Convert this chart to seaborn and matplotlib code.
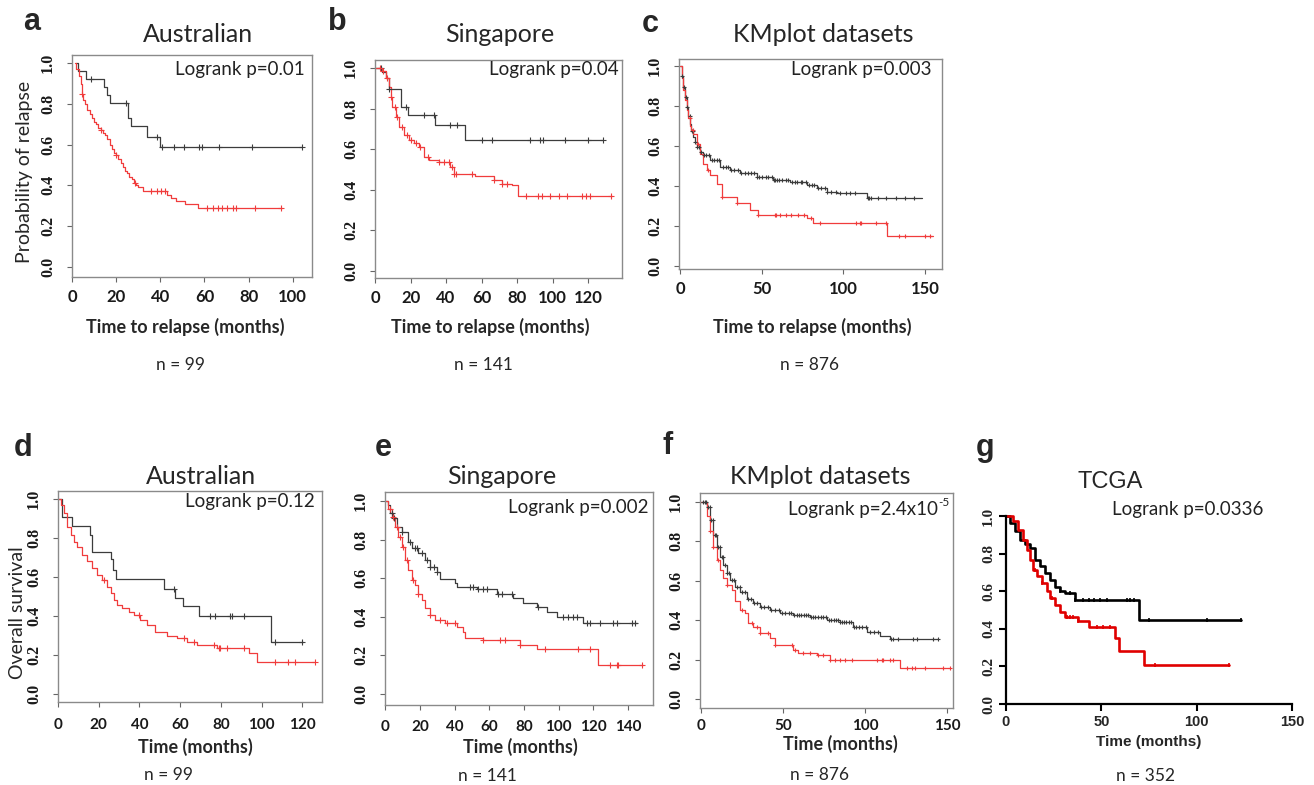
import numpy as np
import pandas as pd
import matplotlib
matplotlib.use("Agg")
import matplotlib.pyplot as plt
import seaborn as sns

sns.set_style("ticks")
plt.rcParams['font.family'] = ['Lato', 'DejaVu Sans']

W, H = 1314, 785

# ---------------- data (months, survival) ----------------
# a: Australian, relapse
a_black_t = [2, 2.5, 6.5, 14.5, 16, 17, 25.5, 26.8, 34, 40, 104]
a_black_s = [1.0, 0.96, 0.925, 0.885, 0.845, 0.805, 0.73, 0.69, 0.64, 0.59, 0.59]
a_black_cens = [8.6, 24.5, 38.5, 40.7, 46, 50.8, 57.3, 58.8, 66.4, 81.4, 104]
a_red_t = [1.5, 2, 3, 4, 4.5, 5, 6, 7, 8, 9, 10, 11, 12, 13, 14, 15, 16, 17, 18, 19, 20,
           21, 22, 23, 24, 25, 26, 27, 28, 29, 30, 32, 43, 45, 47, 51, 57, 95]
a_red_s = [1.0, 0.97, 0.94, 0.90, 0.85, 0.82, 0.80, 0.77, 0.75, 0.73, 0.71, 0.70, 0.68, 0.67,
           0.66, 0.65, 0.63, 0.60, 0.58, 0.56, 0.55, 0.53, 0.51, 0.49, 0.47, 0.46, 0.44, 0.43,
           0.41, 0.40, 0.39, 0.375, 0.355, 0.34, 0.325, 0.31, 0.29, 0.29]
a_red_cens = [4.5, 13, 20, 28.5, 36, 38.5, 40.5, 42, 61, 64, 66, 68, 70, 73, 74.5, 83, 94.5]

# b: Singapore, relapse
b_black_t = [0, 4.1, 6, 7.9, 14.4, 18.5, 34, 50.8, 128.4]
b_black_s = [1.0, 0.98, 0.95, 0.90, 0.81, 0.77, 0.72, 0.645, 0.645]
b_black_cens = [3.6, 7.9, 17.2, 27.5, 33, 42.4, 46.2, 60.2, 65.8, 87.3, 92.9, 94.8, 106.9, 120, 128.4]
b_red_t = [0, 4.1, 6, 7.9, 8.8, 9.7, 11.6, 13.5, 16.3, 19.1, 21.9, 24.7, 27.5, 30.3, 35.9,
           42.4, 44.3, 56.4, 66.7, 71.4, 77, 80.4, 133.6]
b_red_s = [1.0, 0.985, 0.95, 0.91, 0.86, 0.81, 0.76, 0.71, 0.67, 0.645, 0.63, 0.61, 0.56,
           0.547, 0.535, 0.51, 0.48, 0.47, 0.45, 0.43, 0.425, 0.37, 0.37]
b_red_cens = [2.8, 4.7, 6.9, 9.2, 11, 12.5, 15.3, 17.8, 20, 22.8, 25.6, 29.7, 35.9, 38.7, 41.5,
              43.4, 44.7, 45.8, 54.6, 66.7, 71.4, 74.2, 85, 92, 93.8, 98.5, 103.7, 107.9,
              116.3, 118.7, 120.9, 133]

# c: KMplot, relapse
c_black_t = [0, 1, 2, 3, 4.1, 5, 6.1, 7, 8.2, 9, 10.2, 12.2, 14.3, 18.4, 24.5, 30.6, 36.7,
             46.9, 57.1, 67.3, 77.6, 83.7, 89.8, 95.9, 114.3, 148]
c_black_s = [1.0, 0.95, 0.895, 0.845, 0.795, 0.75, 0.71, 0.675, 0.645, 0.62, 0.595, 0.57,
             0.555, 0.53, 0.496, 0.48, 0.463, 0.446, 0.43, 0.42, 0.404, 0.388, 0.371, 0.363,
             0.338, 0.338]
c_black_cens = [1.5, 2.5, 3.8, 4.6, 5.9, 7.2, 8.1, 9.4, 10.6, 11.8, 13.1, 14.7, 16.2, 17.5,
                19.3, 21.0, 22.8, 24.1, 26.4, 28.0, 29.7, 31.5, 33.2, 35.8, 37.4, 39.9, 41.6,
                43.5, 45.2, 47.0, 48.3, 50.1, 52.6, 54.0, 56.2, 57.5, 58.4, 59.3, 60.7, 62.5,
                64.8, 66.1, 68.4, 70.2, 71.5, 73.8, 75.0, 77.2, 78.9, 80.6, 82.0, 84.3, 86.1,
                88.5, 90.2, 92.7, 95.4, 98.1, 101.6, 104.3, 107.2, 114.8, 116.0, 117.1, 121.5,
                125.9, 132.4, 137.8, 143.5]
c_red_t = [0, 1, 2, 3, 4.1, 5, 6.1, 7, 8.2, 10.2, 12.2, 14.3, 16.3, 18.4, 22.4, 25.5, 34.7,
           42.9, 48, 77.6, 81.6, 126.5, 155]
c_red_s = [1.0, 0.94, 0.88, 0.83, 0.78, 0.74, 0.70, 0.68, 0.66, 0.61, 0.56, 0.51, 0.48, 0.455,
           0.41, 0.346, 0.313, 0.28, 0.255, 0.238, 0.216, 0.15, 0.15]
c_red_cens = [6, 8, 11, 17, 25.5, 34.7, 48, 58, 59, 61, 65, 68, 72, 76, 80, 86, 108, 110, 111,
              120, 126, 134, 138, 150, 153]

# d: Australian, overall survival
d_black_t = [0, 2.1, 7, 15.7, 16.8, 25.8, 27.1, 28.3, 52, 57.7, 61.4, 69.1, 104.6, 120.6]
d_black_s = [1.0, 0.91, 0.86, 0.815, 0.73, 0.69, 0.636, 0.59, 0.54, 0.49, 0.45, 0.40, 0.265, 0.265]
d_black_cens = [56.9, 74.5, 77.3, 84.3, 85.5, 91.2, 106.7, 119.8]
d_red_t = [0, 1.3, 2.9, 4.6, 6.2, 7.8, 9.5, 11.9, 14.4, 16.8, 19.3, 21.7, 24.2, 25.8, 27.5,
           29.1, 31.5, 34.8, 37.3, 40.5, 43.8, 47.9, 53.6, 58.5, 63.4, 68.3, 78.1, 93.6, 97.7, 126.3]
d_red_s = [1.0, 0.97, 0.926, 0.858, 0.815, 0.78, 0.755, 0.713, 0.68, 0.645, 0.61, 0.585, 0.55,
           0.516, 0.48, 0.456, 0.44, 0.42, 0.405, 0.38, 0.354, 0.32, 0.30, 0.285, 0.268, 0.25,
           0.234, 0.209, 0.166, 0.166]
d_red_cens = [22.5, 39.7, 61.8, 66.7, 76.5, 78.9, 79.7, 83, 91.2, 106.7, 113.2, 116.5, 126.3]

# e: Singapore, overall survival
e_black_t = [0, 1.7, 2.7, 4.6, 6.5, 9.4, 13.3, 15.2, 19, 22.9, 25.8, 29.6, 31.5, 40.2, 41.2,
             52.7, 64.2, 73.8, 79.6, 87.3, 93.1, 98.8, 114.2, 145]
e_black_s = [1.0, 0.98, 0.936, 0.91, 0.867, 0.84, 0.79, 0.755, 0.73, 0.694, 0.66, 0.634, 0.594,
             0.573, 0.556, 0.542, 0.52, 0.496, 0.47, 0.45, 0.427, 0.40, 0.37, 0.37]
e_black_cens = [3.7, 5, 9.4, 14.2, 17.1, 18.5, 21, 23.8, 25.8, 28.1, 30, 48.8, 50.8, 53.7, 56.5,
                58.5, 65.2, 67.1, 72.9, 88.3, 102.7, 105.6, 108.5, 110.4, 116.2, 118.1, 123.8,
                131.5, 133.5, 142.1, 144]
e_red_t = [0, 1.7, 3.7, 5.6, 7.5, 9.4, 11.3, 13.3, 15.2, 17.1, 19, 21, 22.9, 25.8, 28.7, 34.4,
           41.2, 45, 46, 56.5, 77.7, 87.3, 122.9, 148.8]
e_red_s = [1.0, 0.96, 0.92, 0.867, 0.815, 0.763, 0.694, 0.642, 0.59, 0.565, 0.52, 0.487, 0.444,
           0.41, 0.383, 0.37, 0.345, 0.323, 0.288, 0.28, 0.254, 0.231, 0.15, 0.15]
e_red_cens = [2.7, 4.6, 6.5, 8.5, 10.4, 12.7, 16.2, 19, 25.8, 31.5, 35.4, 40.2, 56.5, 66.2, 69,
              77.7, 92.1, 111.3, 118.1, 129.6, 133.5, 134.4, 147.9]

# f: KMplot, overall survival
f_black_t = [0, 3.5, 5.5, 7.5, 9.6, 11.6, 13.6, 15.7, 17.7, 20.7, 23.8, 27.8, 31.9, 36, 42.1,
             48.2, 56.3, 66.5, 76.6, 84.8, 92.9, 101, 109.1, 115.2, 144.7]
f_black_s = [1.0, 0.975, 0.907, 0.83, 0.77, 0.72, 0.68, 0.637, 0.604, 0.57, 0.545, 0.51, 0.486,
             0.469, 0.452, 0.438, 0.427, 0.415, 0.40, 0.393, 0.368, 0.342, 0.32, 0.305, 0.305]
f_black_cens = [1.2, 2.3, 3.1, 4.4, 5.2, 6.3, 7.1, 8.4, 9.3, 10.5, 11.4, 12.6, 13.5, 14.8, 16.0,
                17.3, 18.9, 20.4, 22.1, 23.5, 25.2, 26.8, 28.7, 30.3, 32.4, 34.1, 36.5, 38.2,
                40.6, 42.9, 45.1, 47.3, 49.6, 51.5, 53.8, 55.2, 56.9, 58.4, 59.7, 61.3, 62.6,
                64.1, 65.5, 67.0, 68.3, 69.8, 71.2, 72.9, 74.6, 76.3, 78.1, 79.5, 81.0, 82.4,
                83.6, 84.9, 86.2, 87.5, 88.7, 90.1, 91.6, 93.2, 94.8, 96.5, 98.3, 100.4, 102.8,
                105.3, 108.0, 115.6, 117.2, 120.3, 129.5, 131.6, 141.7, 144.7]
f_red_t = [0, 3.5, 5.5, 7.5, 9.6, 11.6, 13.6, 15.7, 18.7, 20.7, 23.8, 26.8, 28.9, 31.9, 36,
           42.1, 45.1, 56.3, 59.3, 70.5, 78.7, 121.3, 151.8]
f_red_s = [1.0, 0.93, 0.85, 0.77, 0.705, 0.654, 0.612, 0.578, 0.553, 0.50, 0.452, 0.435, 0.384,
           0.368, 0.334, 0.309, 0.275, 0.25, 0.236, 0.224, 0.20, 0.157, 0.157]
f_red_cens = [5.5, 7.5, 10.6, 15.7, 24.8, 30.9, 33.9, 36, 41.1, 45.1, 55.3, 57.3, 62.4, 66.5,
              71.5, 74.6, 78.7, 81.7, 84.8, 87.8, 91.9, 107.1, 110.2, 111.2, 115.2, 117.3,
              125.4, 128.5, 130.5, 136.6, 147.8, 151.8]

# g: TCGA, overall survival
g_black_t = [0, 2.1, 4.7, 7.4, 10, 12.6, 15.2, 17.9, 20.5, 23.1, 25.7, 28.4, 31, 36.3, 69.5, 123]
g_black_s = [1.0, 0.964, 0.92, 0.875, 0.854, 0.83, 0.77, 0.733, 0.70, 0.66, 0.626, 0.60, 0.59,
             0.555, 0.448, 0.448]
g_black_cens = [28.4, 33.6, 36.3, 40.6, 43.3, 45.9, 49.4, 52.9, 63.4, 65.1, 66.9, 74.8, 105.4, 123]
g_red_t = [0, 3.9, 6.5, 9.1, 10.9, 12.6, 14.4, 16.1, 18.7, 21.4, 23.1, 25.7, 28.4, 31, 38,
           43.3, 57.3, 59.5, 72.2, 116.8]
g_red_s = [1.0, 0.973, 0.93, 0.875, 0.822, 0.769, 0.715, 0.68, 0.644, 0.60, 0.564, 0.528,
           0.493, 0.466, 0.44, 0.413, 0.35, 0.28, 0.208, 0.208]
g_red_cens = [15.2, 18.7, 24, 31.9, 33.6, 35.4, 38, 47.6, 51.1, 54.6, 78.3, 116.8]

yticks = [0.0, 0.2, 0.4, 0.6, 0.8, 1.0]
ytick_labels = ['0.0', '0.2', '0.4', '0.6', '0.8', '1.0']

RED = '#f03c3c'
GREY = '#3c3c3c'

fig = plt.figure(figsize=(W / 100, H / 100), dpi=100)


def px_axes(left, top, right, bottom):
    return fig.add_axes([left / W, 1 - bottom / H, (right - left) / W, (bottom - top) / H])


def ftext(x, y, s, **kw):
    fig.text(x / W, 1 - y / H, s, **kw)


def step_at(t, s, c):
    idx = np.searchsorted(t, c, side='right') - 1
    return np.asarray(s)[np.clip(idx, 0, len(s) - 1)]


def km(ax, t, s, cens, color, lw=0.9, marker='+', ms=15, mlw=0.8):
    df = pd.DataFrame({'time': t, 'surv': s})
    sns.lineplot(data=df, x='time', y='surv', drawstyle='steps-post', estimator=None,
                 sort=False, color=color, lw=lw, ax=ax)
    cdf = pd.DataFrame({'time': cens, 'surv': step_at(t, s, cens)})
    sns.scatterplot(data=cdf, x='time', y='surv', marker=marker, s=ms, color=color,
                    linewidth=mlw, ax=ax, zorder=3)


def style_box(ax, xlim, ylim, xticks, xpad, xsize=12):
    ax.set_xlim(xlim)
    ax.set_ylim(ylim)
    ax.set_xticks(xticks)
    ax.set_xticklabels([str(v) for v in xticks], fontsize=xsize, fontweight='bold',
                       color='#1a1a1a')
    ax.set_yticks(yticks)
    ax.set_yticklabels(ytick_labels, rotation=90, va='center', fontsize=11.5,
                       fontweight='bold', family='Liberation Serif', color='#1a1a1a')
    for sp in ax.spines.values():
        sp.set_color('#8a8a8a')
        sp.set_linewidth(1.0)
    ax.tick_params(axis='both', direction='out', length=3.5, width=0.8, color='#666666')
    ax.tick_params(axis='x', pad=xpad)
    ax.tick_params(axis='y', pad=8)
    ax.set_xlabel('')
    ax.set_ylabel('')


# ---------------- top row ----------------
ax = px_axes(72, 55, 312, 277)
km(ax, a_black_t, a_black_s, a_black_cens, GREY)
km(ax, a_red_t, a_red_s, a_red_cens, RED)
style_box(ax, (0, 108.7), (-0.05, 1.041), [0, 20, 40, 60, 80, 100], 5.5)

ax = px_axes(375, 60, 622, 278)
km(ax, b_black_t, b_black_s, b_black_cens, GREY)
km(ax, b_red_t, b_red_s, b_red_cens, RED)
style_box(ax, (0, 139), (-0.036, 1.041), [0, 20, 40, 60, 80, 100, 120], 5.5)

ax = px_axes(679, 59, 942, 269)
km(ax, c_black_t, c_black_s, c_black_cens, GREY, ms=12)
km(ax, c_red_t, c_red_s, c_red_cens, RED, ms=12)
style_box(ax, (-0.6, 160.4), (-0.015, 1.033), [0, 50, 100, 150], 5.5)

# ---------------- bottom row ----------------
ax = px_axes(58, 491, 322, 702)
km(ax, d_black_t, d_black_s, d_black_cens, GREY)
km(ax, d_red_t, d_red_s, d_red_cens, RED)
style_box(ax, (0, 129.7), (-0.041, 1.041), [0, 20, 40, 60, 80, 100, 120], 8, 11)

ax = px_axes(385, 492, 653, 705)
km(ax, e_black_t, e_black_s, e_black_cens, GREY)
km(ax, e_red_t, e_red_s, e_red_cens, RED)
style_box(ax, (-0.2, 154.5), (-0.057, 1.047), [0, 20, 40, 60, 80, 100, 120, 140], 7, 11)

ax = px_axes(700, 493, 953, 708)
km(ax, f_black_t, f_black_s, f_black_cens, GREY, ms=12)
km(ax, f_red_t, f_red_s, f_red_cens, RED, ms=12)
style_box(ax, (-0.6, 153.7), (-0.044, 1.044), [0, 50, 100, 150], 4.5, 11)

ax = px_axes(1006, 507, 1292, 704)
km(ax, g_black_t, g_black_s, g_black_cens, 'black', lw=1.9, marker='|', ms=12, mlw=1.2)
km(ax, g_red_t, g_red_s, g_red_cens, '#e00000', lw=1.9, marker='|', ms=12, mlw=1.2)
ax.set_xlim(0, 150)
ax.set_ylim(0, 1.05)
ax.set_xticks([0, 50, 100, 150])
ax.set_xticklabels(['0', '50', '100', '150'], fontsize=10.5, fontweight='bold',
                   family='Liberation Sans')
ax.set_yticks(yticks)
ax.set_yticklabels(ytick_labels, rotation=90, va='center', fontsize=11, fontweight='bold',
                   family='Liberation Serif')
sns.despine(ax=ax)
ax.spines['left'].set_bounds(0, 1)
for side in ['left', 'bottom']:
    ax.spines[side].set_linewidth(1.6)
    ax.spines[side].set_color('black')
ax.tick_params(direction='out', length=5, width=1.5, color='black', pad=3)
ax.set_xlabel('')
ax.set_ylabel('')

# ---------------- texts ----------------
for x, y, s in [(32, 22, 'a'), (337, 22, 'b'), (650, 24, 'c'), (23, 448, 'd'),
                (383, 448, 'e'), (668, 446, 'f'), (985, 448, 'g')]:
    ftext(x, y, s, fontsize=22, fontweight='bold', family='Liberation Sans',
          ha='center', va='center')

for x, y, s in [(198, 35, 'Australian'), (500, 35, 'Singapore'), (823, 35, 'KMplot datasets'),
                (201, 477, 'Australian'), (502, 477, 'Singapore'), (820, 477, 'KMplot datasets')]:
    ftext(x, y, s, fontsize=18, ha='center', va='center')
ftext(1110, 482, 'TCGA', fontsize=17, family='Liberation Sans', ha='center', va='center')

for x, y, s in [(305, 70, 'Logrank p=0.01'), (619, 70, 'Logrank p=0.04'),
                (931, 70, 'Logrank p=0.003'), (315, 502, 'Logrank p=0.12'),
                (648, 508, 'Logrank p=0.002'), (938, 509, 'Logrank p=2.4x10')]:
    ftext(x, y, s, fontsize=13.5, ha='right', va='center', color='#222222')
ftext(938.5, 502, '-5', fontsize=8.5, ha='left', va='center', color='#222222')
ftext(1112, 510, 'Logrank p=0.0336', fontsize=13.5, ha='left', va='center', color='#222222')

ftext(25, 172, 'Probability of relapse', fontsize=14, rotation=90, ha='center', va='center')
ftext(18, 613, 'Overall survival', fontsize=14, rotation=90, ha='center', va='center')

for x, y, s in [(185, 327, 'Time to relapse (months)'), (490, 327, 'Time to relapse (months)'),
                (812, 327, 'Time to relapse (months)'), (195, 747, 'Time (months)'),
                (520, 747, 'Time (months)'), (840, 744, 'Time (months)')]:
    ftext(x, y, s, fontsize=13, fontweight='bold', ha='center', va='center')
ftext(1149, 742, 'Time (months)', fontsize=11, fontweight='bold', family='Liberation Sans',
      ha='center', va='center')

for x, y, s in [(180, 365, 'n = 99'), (483, 365, 'n = 141'), (810, 365, 'n = 876'),
                (168, 775, 'n = 99'), (487, 776, 'n = 141'), (820, 775, 'n = 876'),
                (1145, 776, 'n = 352')]:
    ftext(x, y, s, fontsize=12.5, ha='center', va='center')

fig.savefig('out.png', dpi=100)
